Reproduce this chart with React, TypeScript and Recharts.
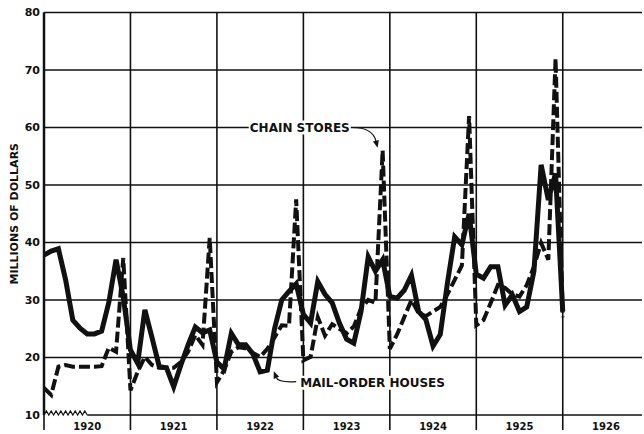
import { LineChart, Line, XAxis, YAxis, ReferenceLine, ReferenceDot } from "recharts";

const INK = "#111";
const FONT = "'DejaVu Sans', sans-serif";

// months from Jan 1920 (0) to Jan 1926 (72)
const YEARS = ["1920", "1921", "1922", "1923", "1924", "1925", "1926"];
const YEAR_STARTS = [0, 12, 24, 36, 48, 60, 72];
const YEAR_MIDS = [6, 18, 30, 42, 54, 66, 78];
const Y_TICKS = [10, 20, 30, 40, 50, 60, 70, 80];
const GRID_Y = [20, 30, 40, 50, 60, 70, 80];

const MAIL_ORDER = [
  37.8, 38.5, 38.9, 33.5, 26.5, 25.1, 24.1, 24.1, 24.6, 29.6, 37, 30.5,
  21.3, 19, 28.3, 23.4, 18.4, 18.2, 14.9, 18.7, 22.2, 25.3, 24.3, 24.8,
  19.2, 18, 24.2, 22.2, 22.2, 20.6, 17.5, 17.8, 25, 30, 31.5, 32.8,
  27.5, 26, 33.2, 31, 29.5, 26, 23.2, 22.5, 28, 37.5, 35, 37,
  30.6, 30.3, 31.7, 34.3, 28, 26.6, 22, 24, 33, 41, 39.6, 45,
  34.5, 33.8, 35.8, 35.8, 29.1, 30.9, 28, 28.8, 35, 53.5, 47.4, 52,
  28,
];

const CHAIN_STORES = [
  14.7, 13.5, 18.4, 18.7, 18.4, 18.4, 18.4, 18.4, 18.5, 21.7, 21, 37.3,
  14.3, 17.5, 20.1, 18.7, 18.2, 18.2, 18.2, 19.2, 21, 23.9, 22.2, 40.8,
  15.7, 17.8, 21, 21.8, 21.6, 20.8, 20.1, 21.5, 23.5, 25.6, 25.5, 47.5,
  19.5, 20.1, 27, 23.8, 25.8, 25, 24.2, 25.4, 28.5, 30, 29.5, 56,
  21.5, 24, 27, 30, 27.7, 27.2, 28, 28.8, 31, 33.5, 36, 62,
  25.6, 26.5, 29.5, 32.6, 32.1, 31, 30.6, 32.6, 35.8, 39.9, 37, 72,
  27,
];

const CHAIN_LABEL = { text: "CHAIN STORES", m: 35.5, v: 60 };
const CHAIN_ARROW = [{ x: 42.8, y: 60 }, { x: 46.3, y: 56.5 }];
const MAIL_LABEL = { text: "MAIL-ORDER HOUSES", m: 45.6, v: 15.6 };
const MAIL_ARROW = [{ x: 35.0, y: 15.8 }, { x: 31.9, y: 17.6 }];

const data = MAIL_ORDER.map((v, i) => ({ m: i, mail: v, chain: CHAIN_STORES[i] }));

function Zigzag(p: any) {
  const { x1, y1, x2 } = p;
  const teeth = 9;
  const step = (x2 - x1) / teeth;
  let d = `M${x1},${y1}`;
  for (let i = 0; i < teeth; i++) {
    d += ` L${x1 + step * (i + 0.5)},${y1 - 4} L${x1 + step * (i + 1)},${y1}`;
  }
  return <path d={d} fill="none" stroke={INK} strokeWidth={1.2} />;
}

// curved leader with arrowhead at (x2, y2)
function Arrow(p: any, bend: number) {
  const { x1, y1, x2, y2 } = p;
  const cx = x2 + (x1 - x2) * 0.2;
  const cy = y1 + bend;
  const a = Math.atan2(y2 - cy, x2 - cx);
  const len = 7;
  const w = 3;
  const bx = x2 - len * Math.cos(a);
  const by = y2 - len * Math.sin(a);
  const head = `M${x2},${y2} L${bx - w * Math.sin(a)},${by + w * Math.cos(a)} L${bx + w * Math.sin(a)},${by - w * Math.cos(a)} Z`;
  return (
    <g>
      <path d={`M${x1},${y1} Q${cx},${cy} ${bx},${by}`} fill="none" stroke={INK} strokeWidth={1.2} />
      <path d={head} fill={INK} />
    </g>
  );
}

function TextTag(p: any, text: string) {
  const w = text.length * 8.5;
  return (
    <g>
      <rect x={p.cx - w / 2} y={p.cy - 7} width={w} height={14} fill="#fff" />
      <text x={p.cx} y={p.cy} textAnchor="middle" dominantBaseline="central"
        fontFamily={FONT} fontWeight="bold" fontSize={12} fill={INK}>
        {text}
      </text>
    </g>
  );
}

export default function App() {
  const tick = { fill: INK, fontFamily: FONT, fontWeight: "bold" as const, fontSize: 11 };
  return (
    <div style={{ position: "absolute", left: 0, top: 0, background: "#fff" }}>
      <LineChart width={644} height={434} data={data}
        margin={{ top: 12.5, right: 2, bottom: 0, left: 0 }}>
        <XAxis dataKey="m" type="number" domain={[0, 83]} ticks={YEAR_MIDS}
          tickFormatter={(v) => YEARS[YEAR_MIDS.indexOf(v)] ?? ""}
          axisLine={false} tickLine={false} height={19} interval={0}
          tick={{ ...tick, fontSize: 10 }} allowDataOverflow />
        <YAxis type="number" domain={[10, 80]} ticks={Y_TICKS} width={44}
          axisLine={{ stroke: INK, strokeWidth: 2.5 }} tickLine={false}
          tickSize={0} tickMargin={4} interval={0} tick={tick} allowDataOverflow
          label={{ value: "MILLIONS OF DOLLARS", angle: -90, position: "insideLeft", offset: 14,
            style: { textAnchor: "middle", fontFamily: FONT, fontWeight: "bold", fontSize: 11, fill: INK } }} />

        {GRID_Y.map((v) => (
          <ReferenceLine key={`h${v}`} y={v} stroke={INK} strokeWidth={1.4} />
        ))}
        <ReferenceLine segment={[{ x: 6, y: 10 }, { x: 83, y: 10 }]} stroke={INK} strokeWidth={1.4} />
        <ReferenceLine segment={[{ x: 0, y: 10 }, { x: 6, y: 10 }]} shape={Zigzag} />
        {YEAR_STARTS.map((s) => (
          <ReferenceLine key={`v${s}`} segment={[{ x: s, y: 7.4 }, { x: s, y: 80 }]}
            ifOverflow="visible" stroke={INK} strokeWidth={1.6} />
        ))}

        <Line type="linear" dataKey="chain" stroke={INK} strokeWidth={4} strokeDasharray="11 4"
          dot={false} activeDot={false} isAnimationActive={false} />
        <Line type="linear" dataKey="mail" stroke={INK} strokeWidth={5}
          dot={false} activeDot={false} isAnimationActive={false} />

        <ReferenceDot x={CHAIN_LABEL.m} y={CHAIN_LABEL.v} r={0}
          shape={(p: any) => TextTag(p, CHAIN_LABEL.text)} />
        <ReferenceLine segment={CHAIN_ARROW} shape={(p: any) => Arrow(p, 0)} />
        <ReferenceDot x={MAIL_LABEL.m} y={MAIL_LABEL.v} r={0}
          shape={(p: any) => TextTag(p, MAIL_LABEL.text)} />
        <ReferenceLine segment={MAIL_ARROW} shape={(p: any) => Arrow(p, 1)} />
      </LineChart>
    </div>
  );
}
